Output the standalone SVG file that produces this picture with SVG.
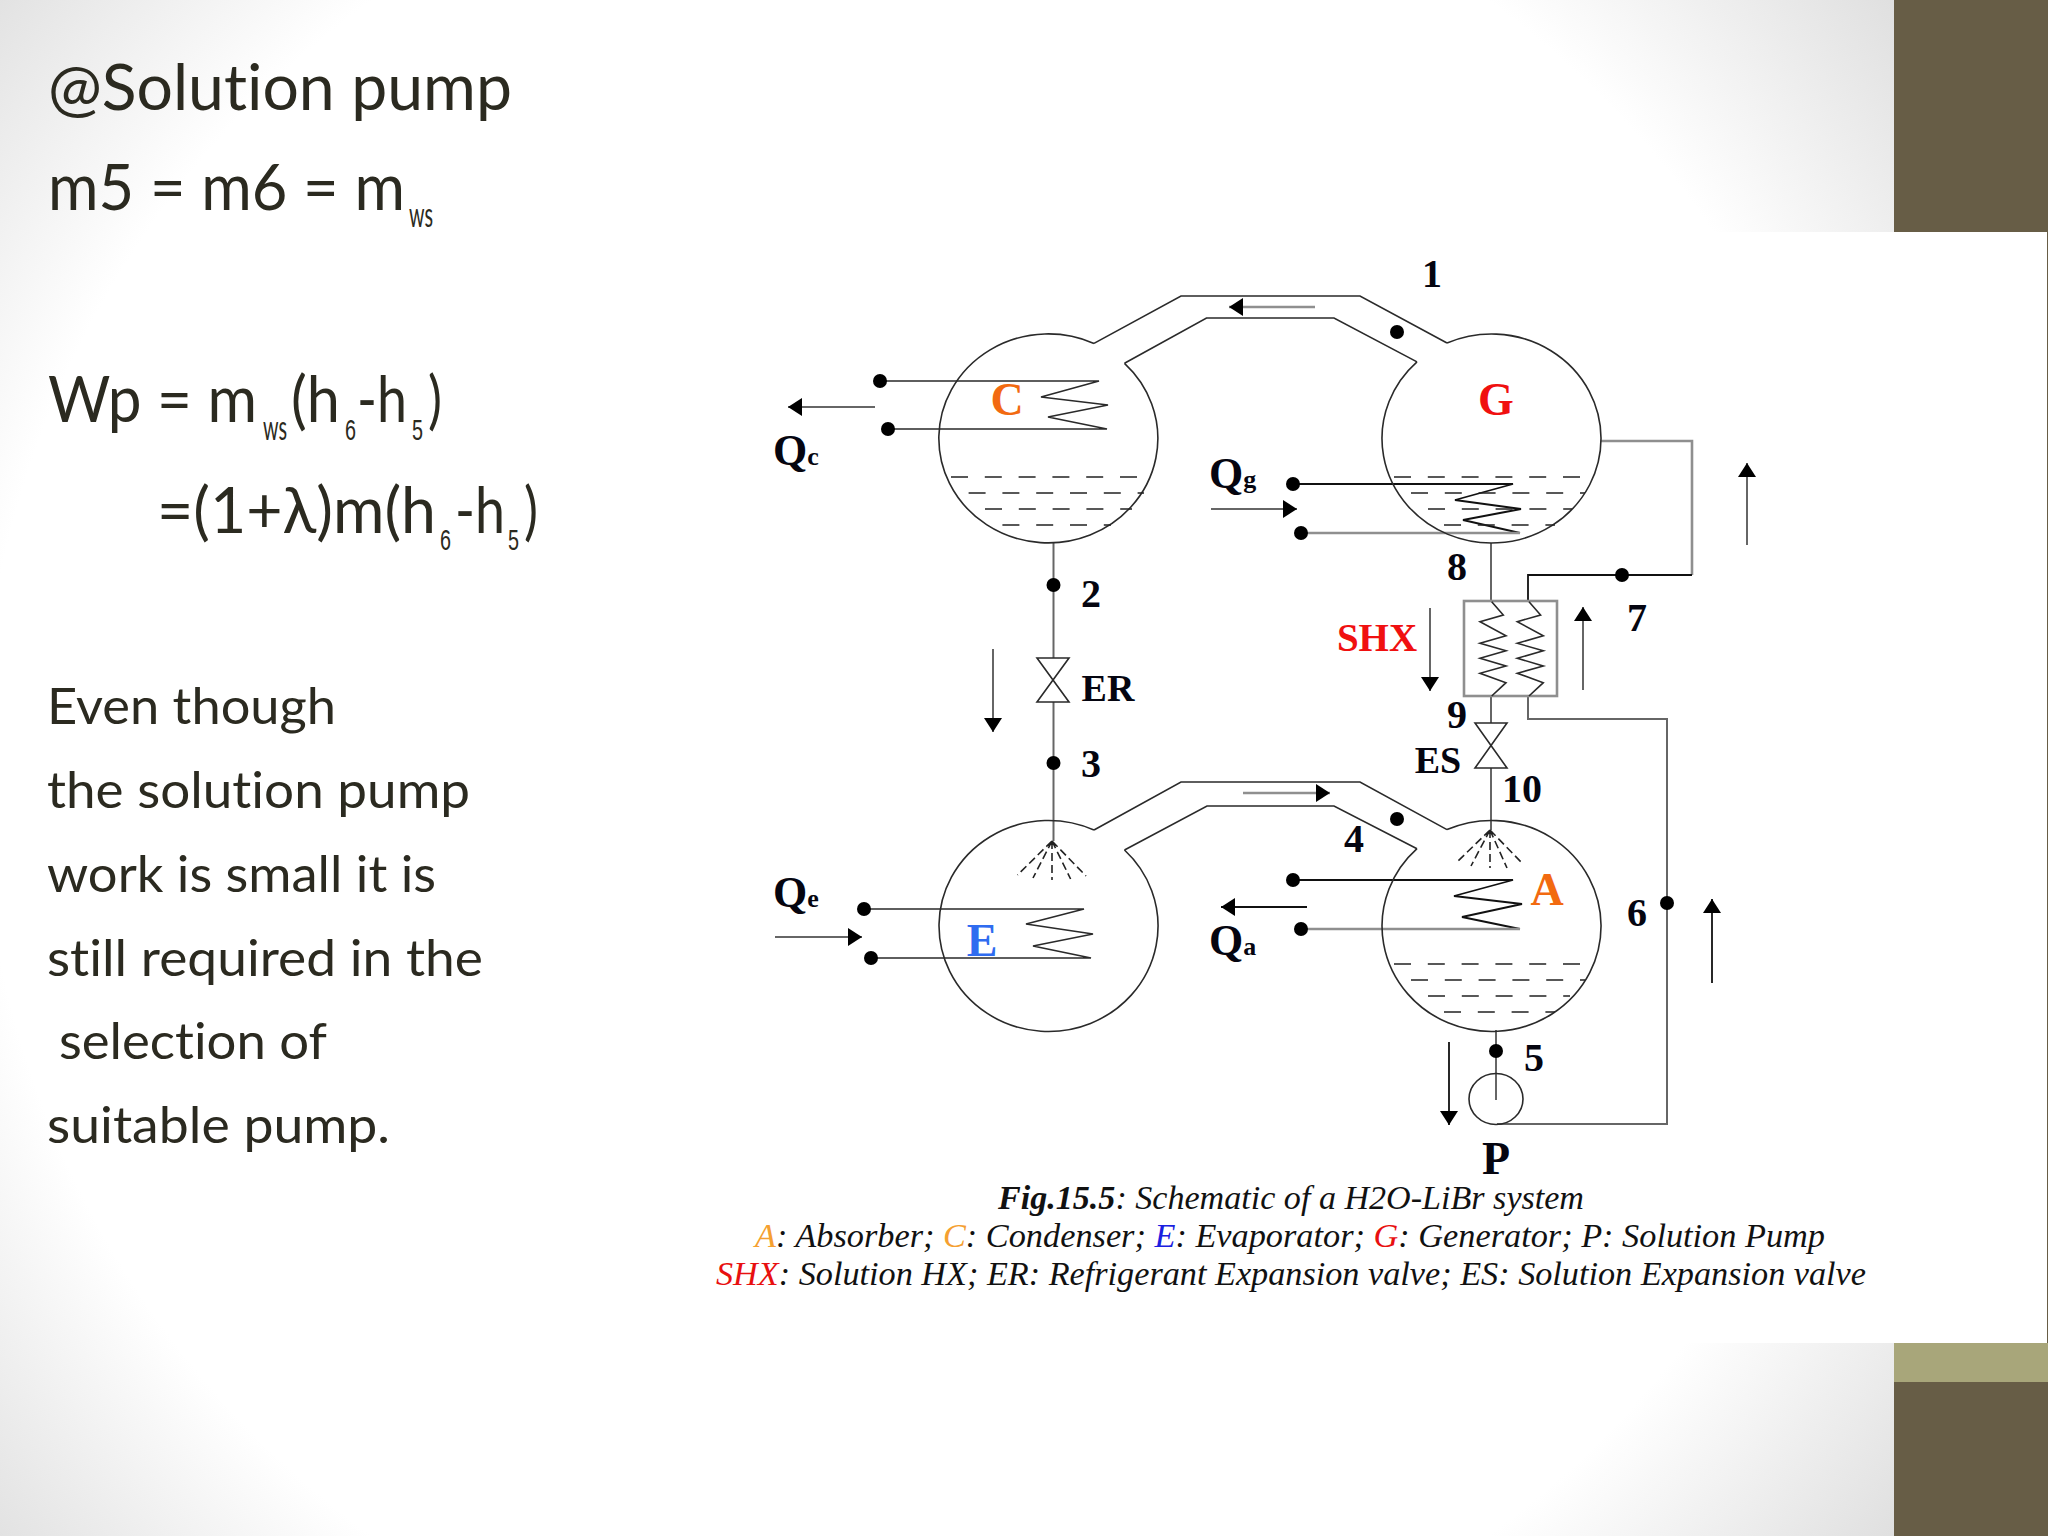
<svg xmlns="http://www.w3.org/2000/svg" width="2048" height="1536" viewBox="0 0 2048 1536">
<style>
.body{font-family:"Lato","Liberation Sans",sans-serif;fill:#2b2a20;font-size:63px;font-variant-ligatures:none}
.para{font-size:50px}
.sub{font-size:34px}
.dg{font-family:"Liberation Sans",sans-serif;font-size:30px}
.lbl{font-family:"Liberation Serif",serif;font-weight:bold;font-size:40px;fill:#050510;text-anchor:middle}
.q{font-size:44px;text-anchor:start}
.qs{font-size:26px}
.cap{font-family:"Liberation Serif",serif;font-style:italic;font-size:34px;fill:#111;text-anchor:start}
.v{fill:none;stroke:#2a2a2a;stroke-width:1.6}
.k{fill:none;stroke:#111;stroke-width:1.8}
.g{fill:none;stroke:#8f8f8f;stroke-width:2.6}
.m{fill:none;stroke:#666;stroke-width:2}
.d{fill:none;stroke:#222;stroke-width:1.6;stroke-dasharray:17 16.8}
.s{fill:none;stroke:#222;stroke-width:1.6;stroke-dasharray:8 4}
.dot{fill:#000}
</style>
<defs>
<radialGradient id="bg" gradientUnits="userSpaceOnUse" cx="930" cy="768" r="1300">
<stop offset="0.73" stop-color="#ffffff"/><stop offset="1" stop-color="#d8d8d8"/>
</radialGradient>
<marker id="ah" viewBox="0 0 14 18" refX="14" refY="9" markerUnits="userSpaceOnUse" markerWidth="14" markerHeight="18" orient="auto"><path d="M0 0L14 9L0 18Z" fill="#000"/></marker>
</defs>
<g id="background">
<rect width="2048" height="1536" fill="url(#bg)"/>
<rect x="1894" y="0" width="154" height="1536" fill="#675d46"/>
<rect x="1894" y="1343" width="154" height="39" fill="#a8a67a"/>
<rect x="690" y="232" width="1357" height="1111" fill="#fff"/>
</g>
<g id="slide-text">
<text class="body" x="48" y="110" textLength="464" lengthAdjust="spacingAndGlyphs">@Solution pump</text>
<text class="body" x="48" y="210" textLength="357" lengthAdjust="spacingAndGlyphs">m5 = m6 = m</text>
<text class="body sub" x="409" y="227" textLength="24" lengthAdjust="spacingAndGlyphs">ws</text>
<text class="body" x="48" y="422" textLength="209" lengthAdjust="spacingAndGlyphs">Wp = m</text>
<text class="body sub" x="263" y="440" textLength="24" lengthAdjust="spacingAndGlyphs">ws</text>
<text class="body" x="291" y="422" textLength="49" lengthAdjust="spacingAndGlyphs">(h</text>
<text class="body dg" x="345" y="440" textLength="11" lengthAdjust="spacingAndGlyphs">6</text>
<text class="body" x="357" y="422" textLength="50" lengthAdjust="spacingAndGlyphs">-h</text>
<text class="body dg" x="412" y="440" textLength="11" lengthAdjust="spacingAndGlyphs">5</text>
<text class="body" x="428" y="422" textLength="14" lengthAdjust="spacingAndGlyphs">)</text>
<text class="body" x="157" y="533" textLength="279" lengthAdjust="spacingAndGlyphs">=(1+λ)m(h</text>
<text class="body dg" x="440" y="550" textLength="11" lengthAdjust="spacingAndGlyphs">6</text>
<text class="body" x="455" y="533" textLength="50" lengthAdjust="spacingAndGlyphs">-h</text>
<text class="body dg" x="508" y="550" textLength="11" lengthAdjust="spacingAndGlyphs">5</text>
<text class="body" x="524" y="533" textLength="14" lengthAdjust="spacingAndGlyphs">)</text>
<text class="body para" x="47" y="724" textLength="289" lengthAdjust="spacingAndGlyphs">Even though</text>
<text class="body para" x="47" y="808" textLength="423" lengthAdjust="spacingAndGlyphs">the solution pump</text>
<text class="body para" x="47" y="892" textLength="389" lengthAdjust="spacingAndGlyphs">work is small it is</text>
<text class="body para" x="47" y="976" textLength="436" lengthAdjust="spacingAndGlyphs">still required in the</text>
<text class="body para" x="59" y="1059" textLength="268" lengthAdjust="spacingAndGlyphs">selection of</text>
<text class="body para" x="47" y="1143" textLength="343" lengthAdjust="spacingAndGlyphs">suitable pump.</text>
</g>
<g id="connectors">
<path class="v" d="M1094 343.4L1181 296H1360L1447 343"/>
<path class="v" d="M1124.5 363.3L1206.5 318H1334L1417 361.9"/>
<path class="v" d="M1094 830L1181 782H1360L1447 829.6"/>
<path class="v" d="M1124.5 850L1207 806H1334L1417 848.7"/>
<line class="m" x1="1053.5" y1="543" x2="1053.5" y2="658"/>
<line class="m" x1="1053.5" y1="702" x2="1053.5" y2="841"/>
<line class="m" x1="1491" y1="543" x2="1491" y2="602"/>
<line class="m" x1="1491" y1="696" x2="1491" y2="723"/>
<line class="m" x1="1491" y1="768" x2="1491" y2="830"/>
<path class="g" d="M1601 441H1692V575"/>
<path class="k" d="M1692 575H1528V602"/>
<path class="m" d="M1528 696V719H1667V1124H1497"/>
<line class="m" x1="1496" y1="1030" x2="1496" y2="1100"/>
<path class="v" d="M880 381H1099L1041 397L1108 405L1048 417L1107 429H888"/>
<path class="v" d="M864 909H1084L1026 924L1093 934L1033 946L1091 958H871"/>
<path class="k" d="M1293 484H1513L1455 500L1521 509L1463 520L1520 533"/>
<line class="g" x1="1301" y1="533" x2="1520" y2="533"/>
<path class="k" d="M1293 880H1513L1454 896L1522 904L1462 917L1520 929"/>
<line class="g" x1="1301" y1="929" x2="1520" y2="929"/>
<line class="g" x1="1315" y1="307" x2="1229" y2="307" marker-end="url(#ah)"/>
<line class="g" x1="1243" y1="793" x2="1330" y2="793" marker-end="url(#ah)"/>
<line class="m" x1="875" y1="407" x2="788" y2="407" marker-end="url(#ah)"/>
<line class="m" x1="1211" y1="509" x2="1297" y2="509" marker-end="url(#ah)"/>
<line class="m" x1="775" y1="937" x2="862" y2="937" marker-end="url(#ah)"/>
<line class="k" x1="1307" y1="907" x2="1221" y2="907" marker-end="url(#ah)"/>
<line class="m" x1="993" y1="649" x2="993" y2="732" marker-end="url(#ah)"/>
<line class="m" x1="1430" y1="608" x2="1430" y2="691" marker-end="url(#ah)"/>
<line class="m" x1="1583" y1="690" x2="1583" y2="607" marker-end="url(#ah)"/>
<line class="m" x1="1747" y1="545" x2="1747" y2="463" marker-end="url(#ah)"/>
<line class="k" x1="1712" y1="983" x2="1712" y2="899" marker-end="url(#ah)"/>
<line class="k" x1="1449" y1="1042" x2="1449" y2="1125" marker-end="url(#ah)"/>
</g>
<g id="condenser">
<path class="v" d="M1094 343.4A109.5 104.5 0 1 0 1124.5 363.3"/>
<path class="d" d="M951 477H1138M968.6 493H1144M985 509H1132M1002.4 525H1111"/>
<text class="lbl" x="1007" y="415" style="font-size:46px;fill:#f26a10">C</text>
</g>
<g id="generator">
<path class="v" d="M1447 343A109.5 104.5 0 1 1 1417 361.9"/>
<path class="d" d="M1394 477H1582M1411 493H1585M1428 509H1572M1444 525H1555"/>
<text class="lbl" x="1496" y="415" style="font-size:46px;fill:#f01010">G</text>
</g>
<g id="evaporator">
<path class="v" d="M1094 830A109.5 105.5 0 1 0 1124.5 850"/>
<path class="s" d="M1052 841L1017.5 875M1052 841L1033 878M1052 841V880M1052 841L1070.6 879M1052 841L1086 876"/>
<text class="lbl" x="982" y="956" style="font-size:46px;fill:#2f6cf0">E</text>
</g>
<g id="absorber">
<path class="v" d="M1447 829.6A109.5 105.5 0 1 1 1417 848.7"/>
<path class="d" d="M1394 964H1582M1411 980H1585M1428 996H1570M1444 1012H1555"/>
<path class="s" d="M1490 830L1456 863M1490 830L1471 866M1490 830V868M1490 830L1507 868M1490 830L1523 864"/>
<text class="lbl" x="1547" y="905" style="font-size:46px;fill:#f26a10">A</text>
</g>
<g id="shx">
<rect class="g" x="1464" y="601" width="93" height="95"/>
<path class="v" d="M1491.7 601.7L1503.3 615L1480 621.7L1506 635.7L1480 643.3L1506 650.7L1480 658.3L1506 666L1480 673.3L1506 682.7L1491.7 696"/>
<path class="v" d="M1529 601.7L1540.6 615L1517.3 621.7L1543.3 635.7L1517.3 643.3L1543.3 650.7L1517.3 658.3L1543.3 666L1517.3 673.3L1543.3 682.7L1529 696"/>
<text class="lbl" x="1377" y="651" style="font-size:39px;fill:#f01010">SHX</text>
</g>
<g id="valve-er">
<path class="v" d="M1037 658H1069L1037 702H1069Z"/>
<text class="lbl" x="1108" y="701" style="font-size:38px">ER</text>
</g>
<g id="valve-es">
<path class="v" d="M1475 723H1507L1475 768H1507Z"/>
<text class="lbl" x="1438" y="773" style="font-size:38px">ES</text>
</g>
<g id="pump">
<ellipse class="v" cx="1496" cy="1099" rx="27" ry="25.5"/>
<text class="lbl" x="1496" y="1174" style="font-size:46px">P</text>
</g>
<g id="state-points">
<circle class="dot" cx="1397" cy="332" r="7"/>
<circle class="dot" cx="1397" cy="819" r="7"/>
<circle class="dot" cx="1053.5" cy="585" r="7"/>
<circle class="dot" cx="1053.5" cy="763" r="7"/>
<circle class="dot" cx="1622" cy="575" r="7"/>
<circle class="dot" cx="1667" cy="903" r="7"/>
<circle class="dot" cx="1496" cy="1051" r="7"/>
<circle class="dot" cx="880" cy="381" r="7"/>
<circle class="dot" cx="888" cy="429" r="7"/>
<circle class="dot" cx="864" cy="909" r="7"/>
<circle class="dot" cx="871" cy="958" r="7"/>
<circle class="dot" cx="1293" cy="484" r="7"/>
<circle class="dot" cx="1301" cy="533" r="7"/>
<circle class="dot" cx="1293" cy="880" r="7"/>
<circle class="dot" cx="1301" cy="929" r="7"/>
<text class="lbl" x="1432" y="287">1</text>
<text class="lbl" x="1091" y="607">2</text>
<text class="lbl" x="1091" y="777">3</text>
<text class="lbl" x="1354" y="852">4</text>
<text class="lbl" x="1534" y="1071">5</text>
<text class="lbl" x="1637" y="926">6</text>
<text class="lbl" x="1637" y="631">7</text>
<text class="lbl" x="1457" y="580">8</text>
<text class="lbl" x="1457" y="728">9</text>
<text class="lbl" x="1522" y="802">10</text>
<text class="lbl q" x="773" y="465">Q<tspan class="qs">c</tspan></text>
<text class="lbl q" x="1209" y="488">Q<tspan class="qs">g</tspan></text>
<text class="lbl q" x="773" y="907">Q<tspan class="qs">e</tspan></text>
<text class="lbl q" x="1209" y="955">Q<tspan class="qs">a</tspan></text>
</g>
<g id="caption">
<text class="cap" x="998" y="1209" textLength="586" lengthAdjust="spacingAndGlyphs"><tspan font-weight="bold">Fig.15.5</tspan>: Schematic of a H2O-LiBr system</text>
<text class="cap" x="755" y="1247" textLength="1070" lengthAdjust="spacingAndGlyphs"><tspan fill="#f5a030">A</tspan>: Absorber; <tspan fill="#f5a030">C</tspan>: Condenser; <tspan fill="#1a20e0">E</tspan>: Evaporator; <tspan fill="#e81010">G</tspan>: Generator; P: Solution Pump</text>
<text class="cap" x="716" y="1285" textLength="1150" lengthAdjust="spacingAndGlyphs"><tspan fill="#e81010">SHX</tspan>: Solution HX; ER: Refrigerant Expansion valve; ES: Solution Expansion valve</text>
</g>
</svg>
